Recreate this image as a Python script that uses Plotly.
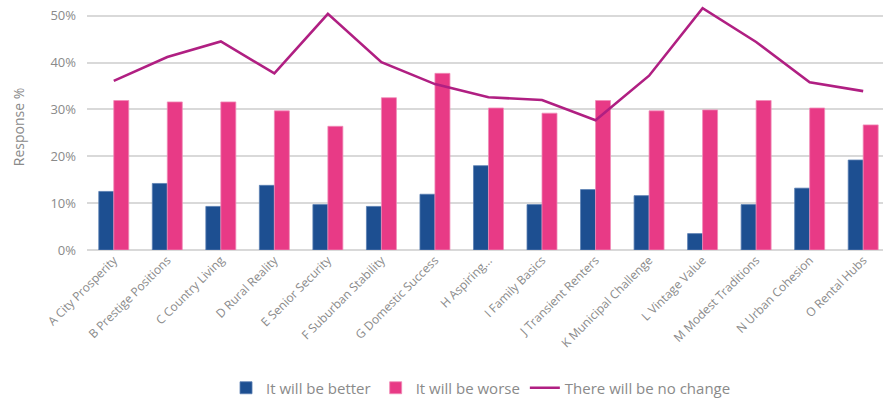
import plotly.graph_objects as go

categories = [
    "A City Prosperity", "B Prestige Positions", "C Country Living", "D Rural Reality",
    "E Senior Security", "F Suburban Stability", "G Domestic Success", "H Aspiring...",
    "I Family Basics", "J Transient Renters", "K Municipal Challenge", "L Vintage Value",
    "M Modest Traditions", "N Urban Cohesion", "O Rental Hubs",
]
better = [12.5, 14.2, 9.3, 13.8, 9.7, 9.3, 11.9, 18.0, 9.7, 12.9, 11.6, 3.5, 9.7, 13.2, 19.2]
worse = [31.9, 31.6, 31.6, 29.7, 26.4, 32.5, 37.7, 30.3, 29.2, 31.9, 29.7, 29.9, 31.9, 30.3, 26.7]
no_change = [36.1, 41.2, 44.5, 37.7, 50.4, 40.1, 35.4, 32.6, 32.0, 27.7, 37.2, 51.6, 44.4, 35.8, 33.9]
y_ticks = [0, 10, 20, 30, 40, 50]
y_tick_text = ["0%", "10%", "20%", "30%", "40%", "50%"]

BLUE = "#1d4f91"
PINK = "#e83a86"
PURPLE = "#b01f82"
GREY_TEXT = "#8a8a8a"
GRID = "#d9d9d9"
FONT = "'Open Sans', Roboto, 'DejaVu Sans', sans-serif"

x = list(range(len(categories)))

fig = go.Figure()
fig.add_trace(go.Bar(
    x=x, y=better, name="It will be better",
    marker=dict(color=BLUE, line=dict(color="#5b7fb3", width=0.8)),
))
fig.add_trace(go.Bar(
    x=x, y=worse, name="It will be worse",
    marker=dict(color=PINK, line=dict(color="#f08cb8", width=0.8)),
))
fig.add_trace(go.Scatter(
    x=x, y=no_change, name="There will be no change", mode="lines",
    line=dict(color=PURPLE, width=2.6),
))

fig.update_layout(
    width=883, height=398,
    margin=dict(l=87, r=0, t=4, b=148, autoexpand=False),
    paper_bgcolor="white", plot_bgcolor="white",
    barmode="group", bargap=0.44, bargroupgap=0,
    font=dict(family=FONT, color=GREY_TEXT, size=12),
    showlegend=True,
    legend=dict(
        orientation="h", x=0.495, xanchor="center", y=-0.561, yanchor="middle",
        font=dict(size=15, color=GREY_TEXT), itemwidth=30,
        traceorder="normal",
    ),
    xaxis=dict(
        range=[-0.5, 14.37], tickmode="array", tickvals=x, ticktext=categories,
        tickangle=-45, showgrid=False, zeroline=False, showline=False, ticks="",
        tickfont=dict(size=12, color=GREY_TEXT), automargin=False,
    ),
    yaxis=dict(
        range=[0, 52.5], tickmode="array", tickvals=y_ticks, ticktext=y_tick_text,
        showgrid=True, gridcolor=GRID, gridwidth=2,
        zeroline=True, zerolinecolor=GRID, zerolinewidth=2, showline=False,
        ticks="", ticklabelstandoff=10, tickfont=dict(size=13, color=GREY_TEXT),
        automargin=False,
        title=dict(text="Response %", font=dict(size=14, color=GREY_TEXT), standoff=22),
    ),
)

fig.write_html("out.html")
